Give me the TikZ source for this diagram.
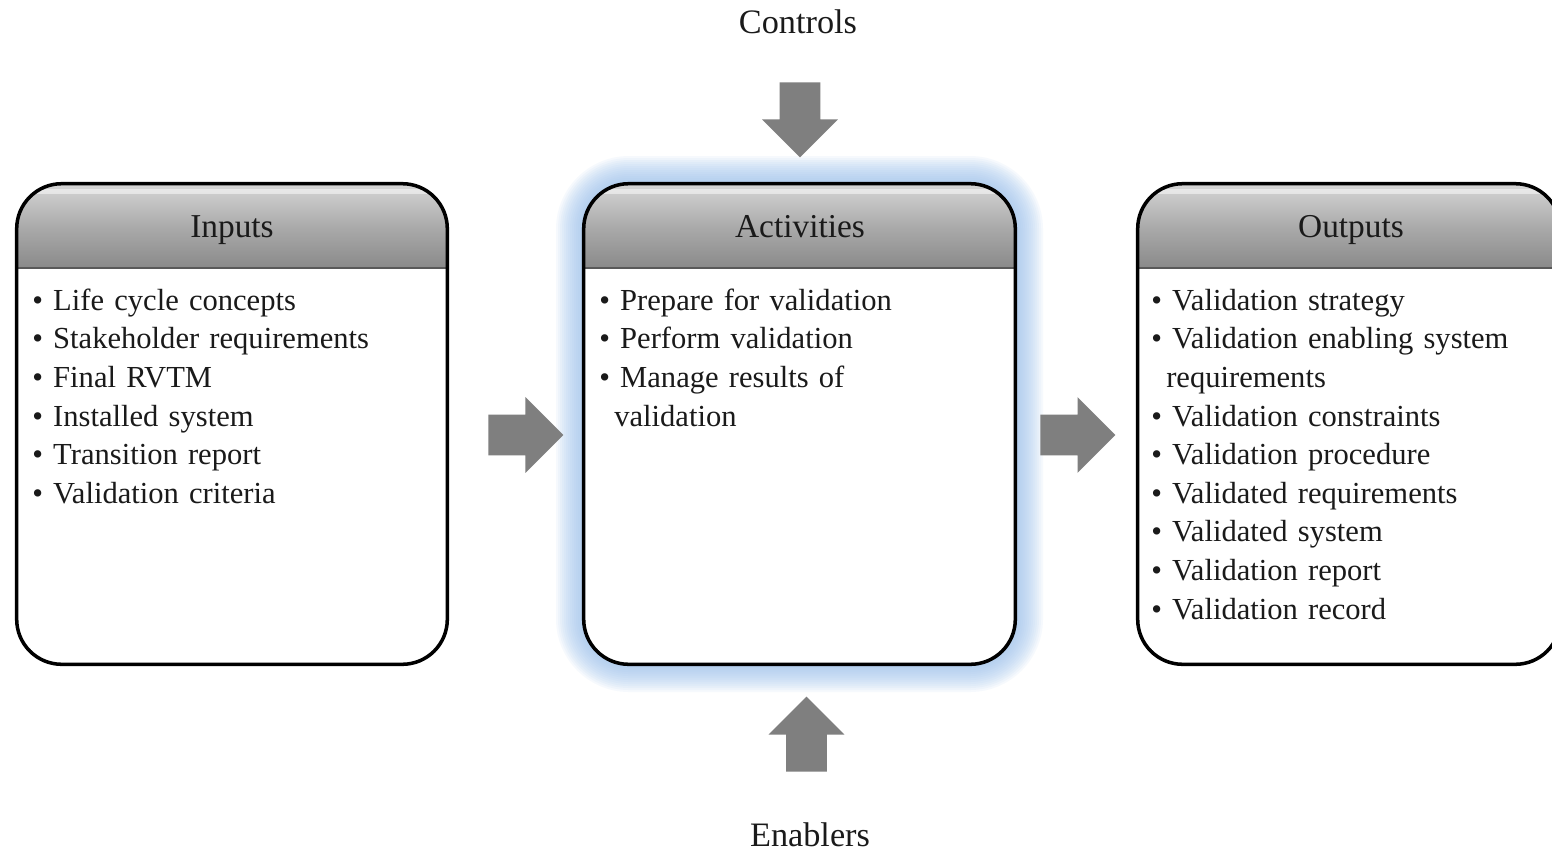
\documentclass[tikz,border=0pt]{standalone}
\usepackage{fontspec}
\setmainfont{Liberation Serif}
\usetikzlibrary{shapes.arrows}
\definecolor{arrowgray}{HTML}{7F7F7F}
\definecolor{glowblue}{HTML}{9CC2EE}
\definecolor{txt}{HTML}{1A1A1A}
\definecolor{headtop}{HTML}{D6D6D6}
\definecolor{headmid}{HTML}{ABABAB}
\definecolor{headbot}{HTML}{8A8A8A}
\newcommand\bitem{\textbullet\ }
\newcommand\firststrut{\rule{0pt}{13pt}}
\tikzset{
  panel/.style={rectangle, rounded corners=0.9cm, fill=white, draw=none, inner sep=0pt},
  panelborder/.style={draw=black, line width=2pt, rounded corners=0.9cm},
  headshade/.style={top color=headtop, bottom color=headbot, middle color=headmid},
  headline/.style={draw=black!65, line width=1.2pt},
  headtext/.style={anchor=base, inner sep=0pt, text=txt, font=\fontsize{19}{23}\selectfont},
  labeltext/.style={anchor=base, inner sep=0pt, text=txt, font=\fontsize{19.5}{23}\selectfont},
  listtext/.style={anchor=north west, inner sep=0pt, text=txt, align=left, text width=9cm,
                   font=\fontsize{17.4}{21.97}\selectfont},
  blockarrow/.style={single arrow, fill=arrowgray, draw=none, inner sep=0pt,
                     text height=0.4cm, text depth=0.4cm, text width=0pt,
                     minimum height=1.5cm, single arrow head extend=0.35cm, anchor=tail},
  glow/.style={draw=glowblue, rounded corners=0.9cm}
}
\begin{document}
\begin{tikzpicture}[x=0.02cm,y=0.02cm]
\useasboundingbox (0,-853) rectangle (1552,0);
\clip (0,-853) rectangle (1552,0);
\fill[white] (0,-853) rectangle (1552,0);

% glow around activities
\foreach \w in {56,52,...,4}{
  \draw[glow, opacity=0.085, line width=\w*0.02cm] (584,-664) rectangle (1015,-184);
}

% panels
\node[panel, minimum width=8.6cm, minimum height=9.6cm] (inputs) at (232,-424) {};
\node[panel, minimum width=8.62cm, minimum height=9.6cm] (activities) at (799.5,-424) {};
\node[panel, minimum width=8.44cm, minimum height=9.6cm] (outputs) at (1349,-424) {};

\foreach \p in {inputs,activities,outputs}{
  \begin{scope}
    \clip[rounded corners=0.9cm] (\p.south west) rectangle (\p.north east);
    \shade[headshade] (\p.north west) rectangle ([yshift=-1.68cm]\p.north east);
    \fill[white, opacity=0.5] ([yshift=-0.1cm]\p.north west) rectangle ([yshift=-0.2cm]\p.north east);
  \end{scope}
  \draw[headline] ([yshift=-1.68cm]\p.north west) -- ([yshift=-1.68cm]\p.north east);
  \draw[panelborder] (\p.south west) rectangle (\p.north east);
}

% titles
\node[headtext] (inputs-title) at (232,-237) {Inputs};
\node[headtext] (activities-title) at (800,-237) {Activities};
\node[headtext] (outputs-title) at (1351,-237) {Outputs};

% lists
\node[listtext] (inputs-list) at (32,-287) {\firststrut\bitem Life cycle concepts\\
\bitem Stakeholder requirements\\
\bitem Final RVTM\\
\bitem Installed system\\
\bitem Transition report\\
\bitem Validation criteria};

\node[listtext] (activities-list) at (599,-287) {\firststrut\bitem Prepare for validation\\
\bitem Perform validation\\
\bitem Manage results of\\
\hspace*{8.5pt}validation};

\node[listtext] (outputs-list) at (1151,-287) {\firststrut\bitem Validation strategy\\
\bitem Validation enabling system\\
\hspace*{8.5pt}requirements\\
\bitem Validation constraints\\
\bitem Validation procedure\\
\bitem Validated requirements\\
\bitem Validated system\\
\bitem Validation report\\
\bitem Validation record};

% labels
\node[labeltext] (controls) at (798,-33) {Controls};
\node[labeltext] (enablers) at (810,-846) {Enablers};

% block arrows
\node[blockarrow] (arrow-in) at (488,-435) {};
\node[blockarrow] (arrow-out) at (1040,-435) {};
\node[blockarrow, rotate=-90] (arrow-control) at (800,-82) {};
\node[blockarrow, rotate=90] (arrow-enable) at (806.5,-772) {};
\end{tikzpicture}
\end{document}
